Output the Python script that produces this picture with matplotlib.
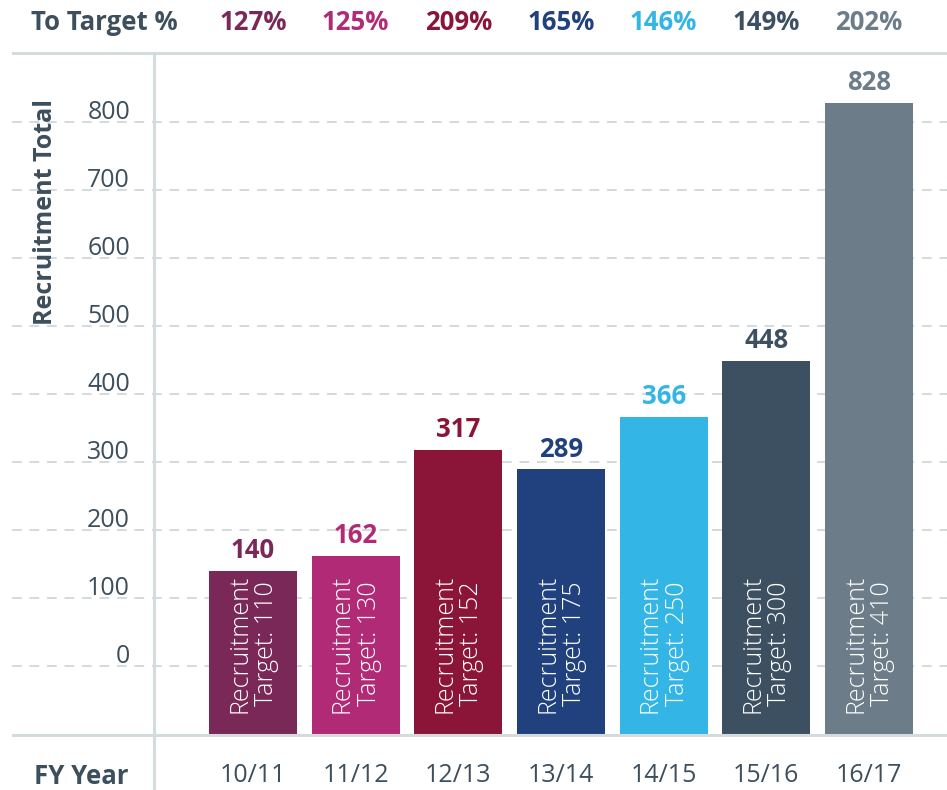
import matplotlib.pyplot as plt
import matplotlib.transforms as mtransforms

plt.rcParams['font.family'] = ['Open Sans', 'DejaVu Sans']

years = ['10/11', '11/12', '12/13', '13/14', '14/15', '15/16', '16/17']
totals = [140, 162, 317, 289, 366, 448, 828]
targets = [110, 130, 152, 175, 250, 300, 410]
to_target = ['127%', '125%', '209%', '165%', '146%', '149%', '202%']
colors = ['#7A2857', '#B02A76', '#8A1538', '#20417D', '#33B5E5', '#3D5061', '#6C7D89']

slate = '#3D4E5C'
rule = '#D3DBDD'
W, H = 947, 790


def fx(px):
    return px / W


def fy(px):
    return 1 - px / H


fig = plt.figure(figsize=(W / 100, H / 100), dpi=100)
ax = fig.add_axes([fx(155), fy(735), fx(947 - 155), (735 - 53) / H])

# bars sit on a floor below zero, like the original infographic
floor = -101.5
ax.set_ylim(floor, 901.5)
ax.set_xlim(-0.9545, 6.76)
for s in ax.spines.values():
    s.set_visible(False)
ax.set_xticks([])
ax.set_yticks([])

xs = list(range(len(years)))
ax.bar(xs, [t - floor for t in totals], bottom=floor, width=0.857,
       color=colors, zorder=3)

# dashed grid running into the label column
x_left = (12 - 253) / 102.67
for v in range(0, 900, 100):
    ax.plot([x_left, 6.76], [v, v], color=rule, lw=1.4,
            linestyle=(0, (5, 4)), clip_on=False, zorder=1)
    ax.text((130 - 253) / 102.67, v + 14, str(v), ha='right', va='center',
            fontsize=18, color=slate, clip_on=False)

for i, (t, tg, c) in enumerate(zip(totals, targets, colors)):
    ax.annotate(str(t), (i, t), xytext=(0, 5), textcoords='offset points',
                ha='center', va='bottom', fontsize=18.5, fontweight='bold',
                color=c)
    ax.text(i, -69, 'Recruitment\nTarget: %d' % tg, rotation=90,
            ha='center', va='bottom', fontsize=18, fontweight='light',
            color='white', linespacing=1.1, zorder=4)

# frame rules
fig.add_artist(plt.Line2D([fx(13), 1], [fy(53), fy(53)], color=rule, lw=2.2))
fig.add_artist(plt.Line2D([fx(13), 1], [fy(735), fy(735)], color=rule, lw=2.2))
fig.add_artist(plt.Line2D([fx(154), fx(154)], [fy(53), 0], color=rule, lw=2.2))

# header and footer rows
trans = mtransforms.blended_transform_factory(ax.transData, fig.transFigure)
fig.text(fx(104), fy(22), 'To Target %', ha='center', va='center',
         fontsize=18.5, fontweight='bold', color=slate)
fig.text(fx(81), fy(776), 'FY Year', ha='center', va='center',
         fontsize=18.5, fontweight='bold', color=slate)
for i, (p, y, c) in enumerate(zip(to_target, years, colors)):
    ax.text(i, fy(22), p, transform=trans, ha='center', va='center',
            fontsize=18.5, fontweight='bold', color=c)
    ax.text(i, fy(776), y, transform=trans, ha='center', va='center',
            fontsize=18, color=slate)

fig.text(fx(45), fy(212), 'Recruitment Total', rotation=90, ha='center',
         va='center', fontsize=18, fontweight='bold', color=slate)

fig.savefig('out.png', dpi=100)
